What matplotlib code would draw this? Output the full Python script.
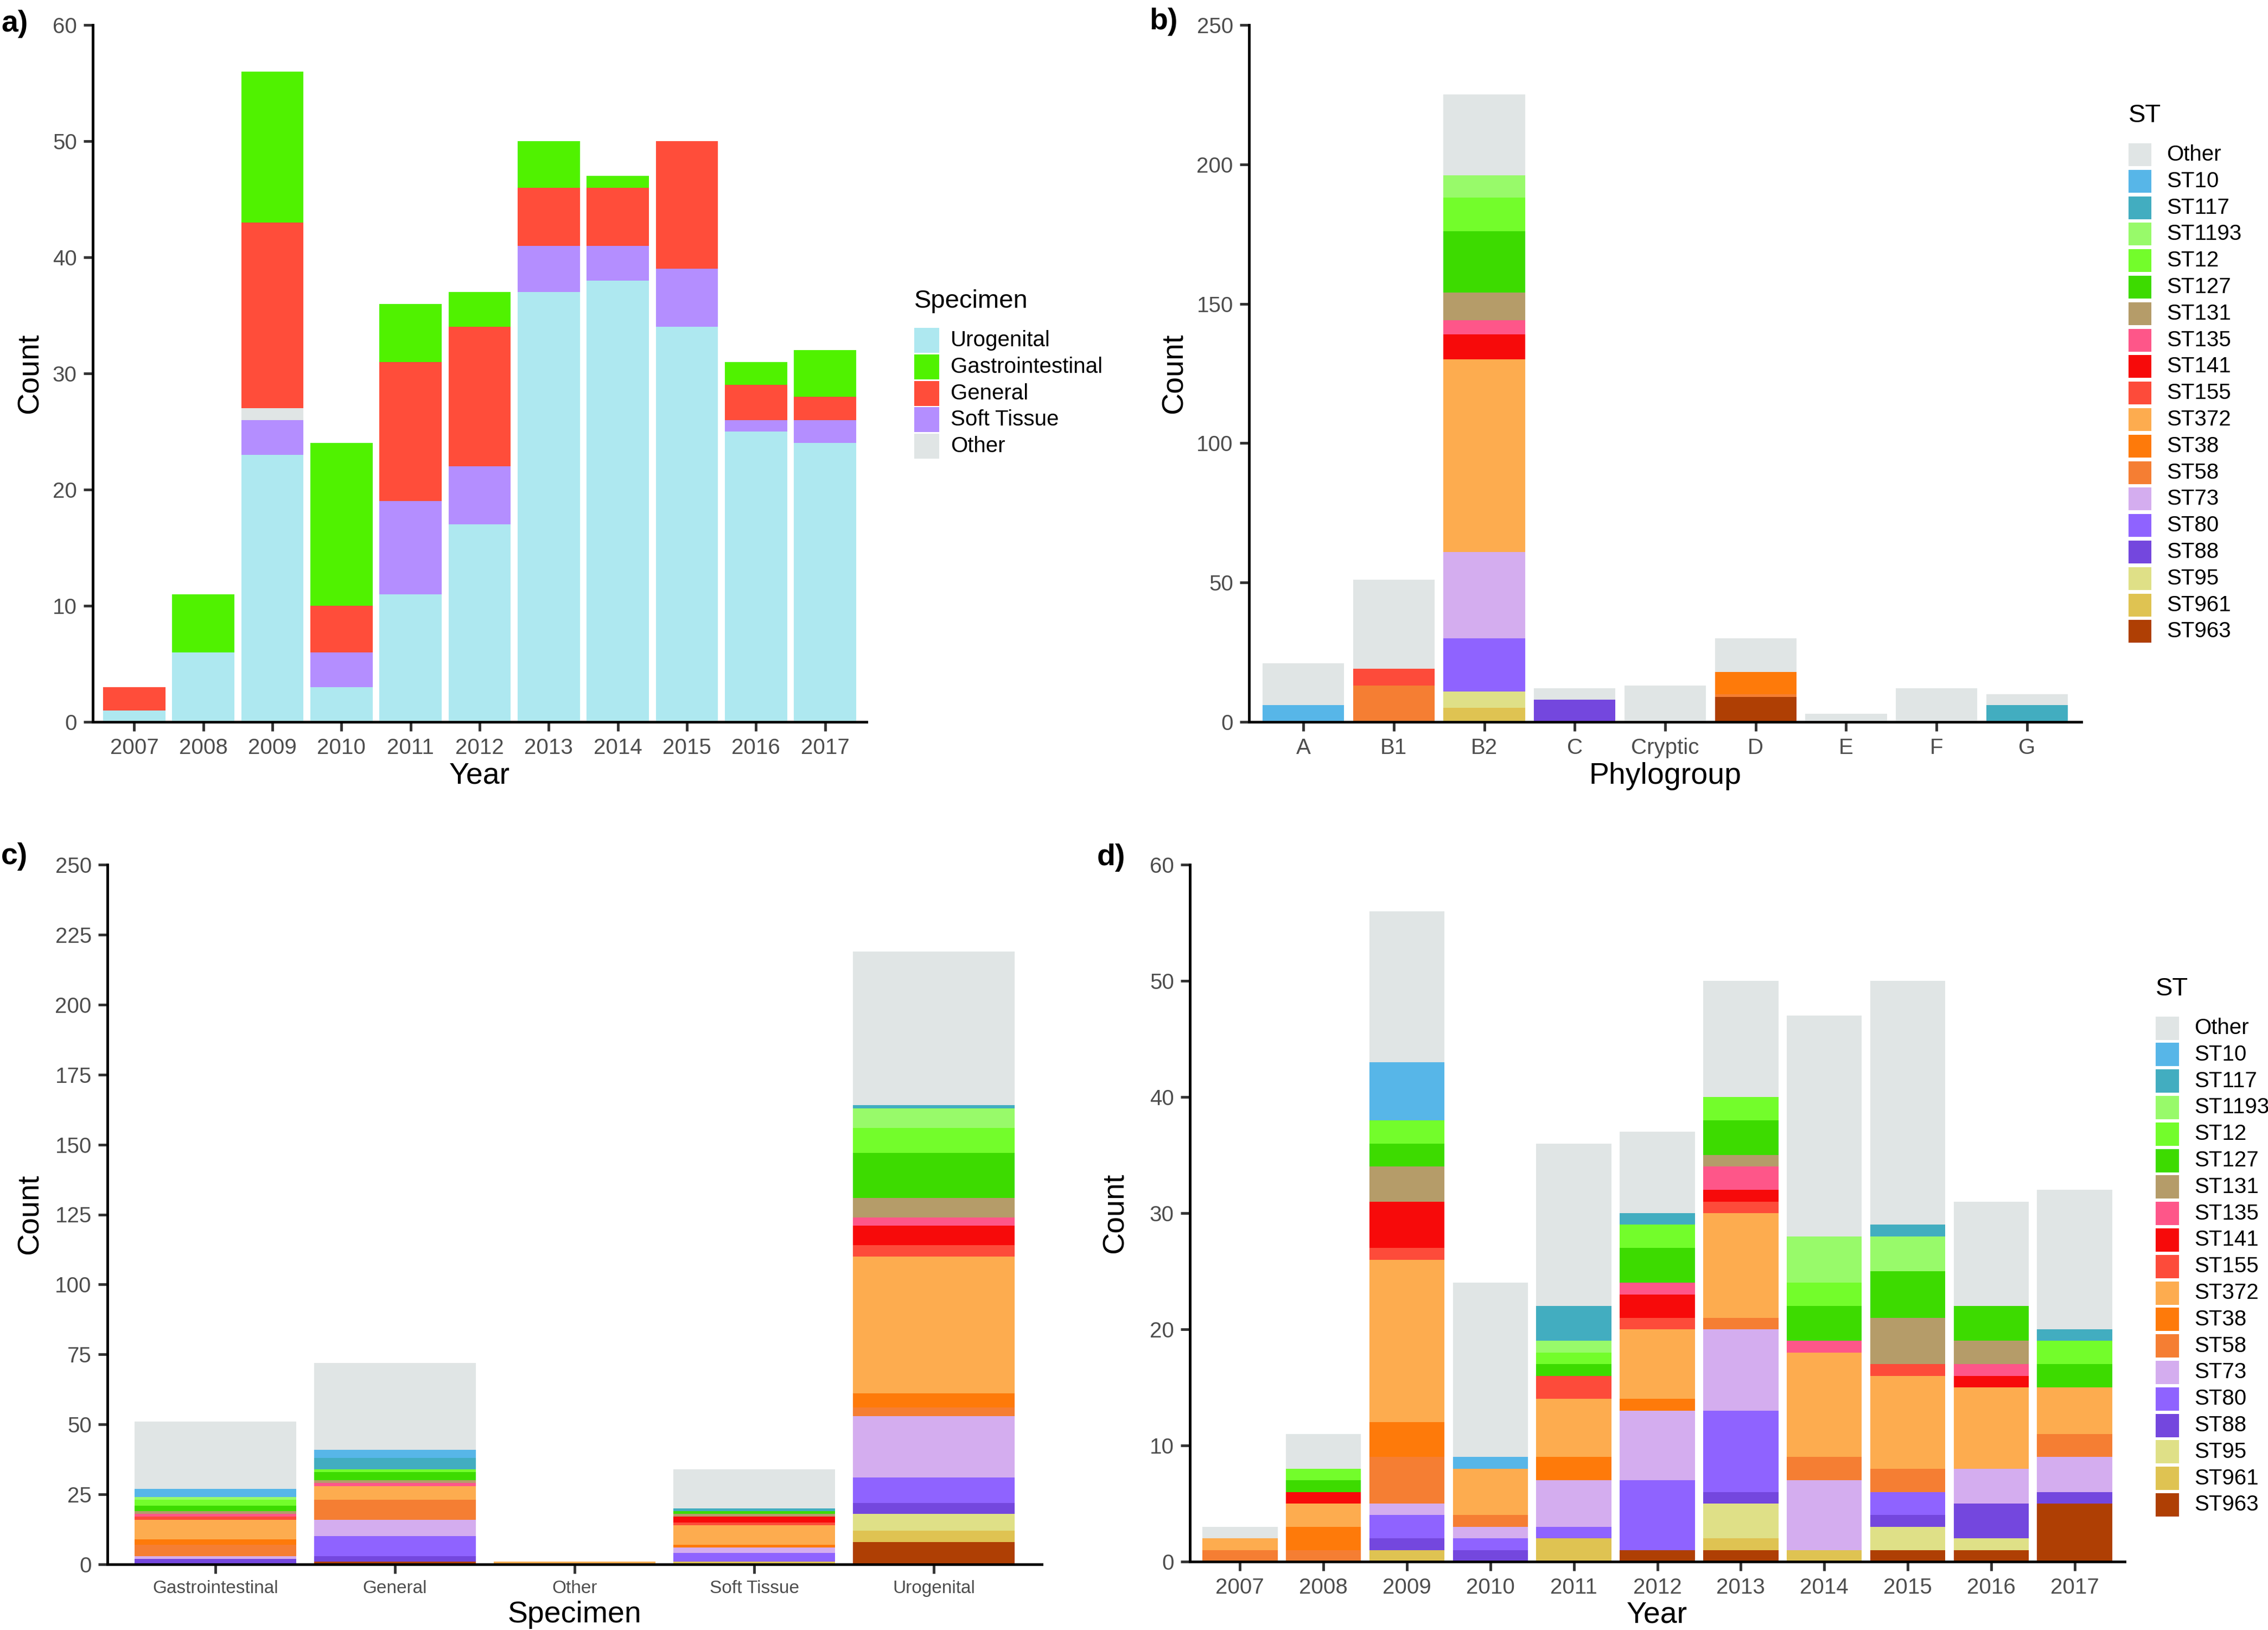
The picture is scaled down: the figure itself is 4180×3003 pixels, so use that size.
import matplotlib.pyplot as plt
from matplotlib.patches import Rectangle

plt.rcParams['font.family'] = ['Liberation Sans', 'DejaVu Sans']

# ---------------- data ----------------
years = ['2007', '2008', '2009', '2010', '2011', '2012', '2013', '2014', '2015', '2016', '2017']

# panel a: specimen counts per year
spec_legend = ['Urogenital', 'Gastrointestinal', 'General', 'Soft Tissue', 'Other']
spec_stack = ['Urogenital', 'Soft Tissue', 'Other', 'General', 'Gastrointestinal']  # bottom -> top
uro = [1, 6, 23, 3, 11, 17, 37, 38, 34, 25, 24]
soft = [0, 0, 3, 3, 8, 5, 4, 3, 5, 1, 2]
spec_other = [0, 0, 1, 0, 0, 0, 0, 0, 0, 0, 0]
general = [2, 0, 16, 4, 12, 12, 5, 5, 11, 3, 2]
gastro = [0, 5, 13, 14, 5, 3, 4, 1, 0, 2, 4]

spec_colors = {'Urogenital': '#AEE8F0', 'Gastrointestinal': '#50F200', 'General': '#FF4D3A',
               'Soft Tissue': '#B48EFF', 'Other': '#E0E5E5'}

# ST levels (legend order, top of stack first)
st_levels = ['Other', 'ST10', 'ST117', 'ST1193', 'ST12', 'ST127', 'ST131', 'ST135', 'ST141',
             'ST155', 'ST372', 'ST38', 'ST58', 'ST73', 'ST80', 'ST88', 'ST95', 'ST961', 'ST963']
st_colors = ['#E0E5E5', '#57B6E8', '#42ADC0', '#98FA6A', '#73FD2B', '#3DDB00', '#B59C69', '#FE5689',
             '#F70A0A', '#FD4B3A', '#FDAC4F', '#FE7A0A', '#F57E33', '#D4ADEF', '#8F63FF', '#7447DE',
             '#DFE087', '#DFC352', '#AF3F04']

# panel b: phylogroup x ST
phylogroups = ['A', 'B1', 'B2', 'C', 'Cryptic', 'D', 'E', 'F', 'G']
pg_A = {'Other': 15, 'ST10': 6}
pg_B1 = {'Other': 32, 'ST155': 6, 'ST58': 13}
pg_B2 = {'Other': 29, 'ST1193': 8, 'ST12': 12, 'ST127': 22, 'ST131': 10, 'ST135': 5, 'ST141': 9,
         'ST372': 69, 'ST73': 31, 'ST80': 19, 'ST95': 6, 'ST961': 5}
pg_C = {'Other': 4, 'ST88': 8}
pg_Cryptic = {'Other': 13}
pg_D = {'Other': 12, 'ST38': 8, 'ST58': 1, 'ST963': 9}
pg_E = {'Other': 3}
pg_F = {'Other': 12}
pg_G = {'Other': 4, 'ST117': 6}

# panel c: specimen x ST
specimens = ['Gastrointestinal', 'General', 'Other', 'Soft Tissue', 'Urogenital']
sp_gastro = {'Other': 24, 'ST10': 3, 'ST1193': 1, 'ST12': 2, 'ST127': 2, 'ST131': 1, 'ST135': 1,
             'ST155': 1, 'ST372': 7, 'ST38': 2, 'ST58': 4, 'ST73': 1, 'ST88': 2}
sp_general = {'Other': 31, 'ST10': 3, 'ST117': 4, 'ST12': 1, 'ST127': 3, 'ST131': 1, 'ST135': 1,
              'ST372': 5, 'ST58': 7, 'ST73': 6, 'ST80': 7, 'ST88': 2, 'ST963': 1}
sp_other = {'ST372': 1}
sp_soft = {'Other': 14, 'ST117': 1, 'ST127': 1, 'ST131': 1, 'ST141': 2, 'ST155': 1, 'ST372': 7,
           'ST38': 1, 'ST73': 2, 'ST80': 3, 'ST961': 1}
sp_uro = {'Other': 55, 'ST117': 1, 'ST1193': 7, 'ST12': 9, 'ST127': 16, 'ST131': 7, 'ST135': 3,
          'ST141': 7, 'ST155': 4, 'ST372': 49, 'ST38': 5, 'ST58': 3, 'ST73': 22, 'ST80': 9,
          'ST88': 4, 'ST95': 6, 'ST961': 4, 'ST963': 8}

# panel d: year x ST
y2007 = {'Other': 1, 'ST372': 1, 'ST58': 1}
y2008 = {'Other': 3, 'ST12': 1, 'ST127': 1, 'ST141': 1, 'ST372': 2, 'ST38': 2, 'ST58': 1}
y2009 = {'Other': 13, 'ST10': 5, 'ST12': 2, 'ST127': 2, 'ST131': 3, 'ST141': 4, 'ST155': 1,
         'ST372': 14, 'ST38': 3, 'ST58': 4, 'ST73': 1, 'ST80': 2, 'ST88': 1, 'ST961': 1}
y2010 = {'Other': 15, 'ST10': 1, 'ST372': 4, 'ST58': 1, 'ST73': 1, 'ST80': 1, 'ST88': 1}
y2011 = {'Other': 14, 'ST117': 3, 'ST1193': 1, 'ST12': 1, 'ST127': 1, 'ST155': 2, 'ST372': 5,
         'ST38': 2, 'ST73': 4, 'ST80': 1, 'ST961': 2}
y2012 = {'Other': 7, 'ST117': 1, 'ST12': 2, 'ST127': 3, 'ST135': 1, 'ST141': 2, 'ST155': 1,
         'ST372': 6, 'ST38': 1, 'ST73': 6, 'ST80': 6, 'ST963': 1}
y2013 = {'Other': 10, 'ST12': 2, 'ST127': 3, 'ST131': 1, 'ST135': 2, 'ST141': 1, 'ST155': 1,
         'ST372': 9, 'ST58': 1, 'ST73': 7, 'ST80': 7, 'ST88': 1, 'ST95': 3, 'ST961': 1, 'ST963': 1}
y2014 = {'Other': 19, 'ST1193': 4, 'ST12': 2, 'ST127': 3, 'ST135': 1, 'ST372': 9, 'ST58': 2,
         'ST73': 6, 'ST961': 1}
y2015 = {'Other': 21, 'ST117': 1, 'ST1193': 3, 'ST127': 4, 'ST131': 4, 'ST155': 1, 'ST372': 8,
         'ST58': 2, 'ST80': 2, 'ST88': 1, 'ST95': 2, 'ST963': 1}
y2016 = {'Other': 9, 'ST127': 3, 'ST131': 2, 'ST135': 1, 'ST141': 1, 'ST372': 7, 'ST73': 3,
         'ST88': 3, 'ST95': 1, 'ST963': 1}
y2017 = {'Other': 12, 'ST117': 1, 'ST12': 2, 'ST127': 2, 'ST372': 4, 'ST58': 2, 'ST73': 3,
         'ST88': 1, 'ST963': 5}

# ---------------- layout helpers (pixel coords of the 4180x3003 canvas) ----------------
W, H = 4180, 3003
fig = plt.figure(figsize=(W / 100, H / 100), dpi=100)

TICK_SIZE = 29
TITLE_SIZE = 40


def add_axes(left, top, right, bottom):
    return fig.add_axes([left / W, 1 - bottom / H, (right - left) / W, (bottom - top) / H])


def style_axes(ax, n, ymax, yticks, xlabelsize=TICK_SIZE):
    ax.set_xlim(-0.6, n - 0.4)
    ax.set_ylim(0, ymax)
    ax.set_yticks(yticks)
    for s in ['top', 'right']:
        ax.spines[s].set_visible(False)
    for s in ['left', 'bottom']:
        ax.spines[s].set_linewidth(3.5)
        ax.spines[s].set_color('black')
    ax.tick_params(length=12, width=3.5, color='#333333', labelcolor='#4D4D4D',
                   labelsize=TICK_SIZE, pad=9)
    ax.tick_params(axis='x', labelsize=xlabelsize)


def stack_st(ax, cats, tables):
    bottoms = [0] * len(cats)
    for lvl, col in reversed(list(zip(st_levels, st_colors))):
        vals = [t.get(lvl, 0) for t in tables]
        ax.bar(range(len(cats)), vals, width=0.9, bottom=bottoms, color=col, linewidth=0)
        bottoms = [b + v for b, v in zip(bottoms, vals)]
    ax.set_xticks(range(len(cats)))
    ax.set_xticklabels(cats)


def px_text(x, y, s, **kw):
    fig.text(x / W, 1 - y / H, s, **kw)


def draw_legend(title, labels, colors, x, title_y, first_y, key=44, step=48.8, text_x=None):
    px_text(x, title_y, title, fontsize=34, va='center', ha='left')
    for i, (lab, col) in enumerate(zip(labels, colors)):
        cy = first_y + i * step
        fig.add_artist(Rectangle((x / W, 1 - (cy + key / 2) / H), key / W, key / H,
                                 transform=fig.transFigure, facecolor=col, edgecolor='none'))
        px_text(text_x, cy, lab, fontsize=TICK_SIZE, va='center', ha='left')


# ---------------- panel a ----------------
ax_a = add_axes(171, 46, 1597, 1330)
spec_series = {'Urogenital': uro, 'Soft Tissue': soft, 'Other': spec_other,
               'General': general, 'Gastrointestinal': gastro}
bottoms = [0] * len(years)
for name in spec_stack:
    vals = spec_series[name]
    ax_a.bar(range(len(years)), vals, width=0.9, bottom=bottoms, color=spec_colors[name], linewidth=0)
    bottoms = [b + v for b, v in zip(bottoms, vals)]
ax_a.set_xticks(range(len(years)))
ax_a.set_xticklabels(years)
style_axes(ax_a, len(years), 60, range(0, 61, 10))
px_text(56, 688, 'Count', fontsize=TITLE_SIZE, rotation=90, ha='center', va='center')
px_text(884, 1430, 'Year', fontsize=TITLE_SIZE, ha='center', va='center')
draw_legend('Specimen', spec_legend, [spec_colors[s] for s in spec_legend],
            1685, 555, 627, key=46, text_x=1752)

# ---------------- panel b ----------------
ax_b = add_axes(2302, 46, 3836, 1330)
stack_st(ax_b, phylogroups, [pg_A, pg_B1, pg_B2, pg_C, pg_Cryptic, pg_D, pg_E, pg_F, pg_G])
style_axes(ax_b, len(phylogroups), 250, range(0, 251, 50))
px_text(2165, 688, 'Count', fontsize=TITLE_SIZE, rotation=90, ha='center', va='center')
px_text(3069, 1430, 'Phylogroup', fontsize=TITLE_SIZE, ha='center', va='center')
draw_legend('ST', st_levels, st_colors, 3923, 213, 285, key=42, text_x=3993)

# ---------------- panel c ----------------
ax_c = add_axes(198, 1593, 1920, 2882)
stack_st(ax_c, specimens, [sp_gastro, sp_general, sp_other, sp_soft, sp_uro])
style_axes(ax_c, len(specimens), 250, range(0, 251, 25), xlabelsize=24)
px_text(56, 2237, 'Count', fontsize=TITLE_SIZE, rotation=90, ha='center', va='center')
px_text(1059, 2975, 'Specimen', fontsize=TITLE_SIZE, ha='center', va='center')

# ---------------- panel d ----------------
ax_d = add_axes(2193, 1593, 3916, 2877)
stack_st(ax_d, years, [y2007, y2008, y2009, y2010, y2011, y2012, y2013, y2014, y2015, y2016, y2017])
style_axes(ax_d, len(years), 60, range(0, 61, 10))
px_text(2056, 2235, 'Count', fontsize=TITLE_SIZE, rotation=90, ha='center', va='center')
px_text(3054, 2975, 'Year', fontsize=TITLE_SIZE, ha='center', va='center')
draw_legend('ST', st_levels, st_colors, 3973, 1822, 1894, key=43, text_x=4044)

# panel letters
for lab, x, y in [('a)', 2, 44), ('b)', 2118, 40), ('c)', 2, 1578), ('d)', 2022, 1580)]:
    px_text(x, y, lab, fontsize=40, fontweight='bold', ha='left', va='center')

fig.savefig('out.png', dpi=100, facecolor='white')
